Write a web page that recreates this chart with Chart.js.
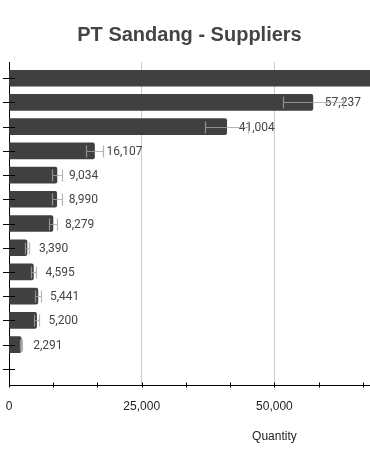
<!DOCTYPE html>
<html>
<head>
<meta charset="utf-8">
<title>PT Sandang - Suppliers</title>
<script src="https://cdn.jsdelivr.net/npm/chart.js@4.4.1/dist/chart.umd.min.js"></script>
<style>
  html, body { margin: 0; padding: 0; background: #fff; }
  .chart-box { width: 370px; height: 467px; }
</style>
</head>
<body>
<div class="chart-box"><canvas id="supplierChart"></canvas></div>
<script>
// Data (top bar runs past the axis end, its value is a guess)
const quantities = [90000, 57237, 41004, 16107, 9034, 8990, 8279, 3390, 4595, 5441, 5200, 2291, null];
const errors = [9000, 5700, 4100, 1600, 900, 900, 830, 340, 460, 540, 520, 230, null];
const majorTicks = [0, 25000, 50000];
const minorPerMajor = 3;
const xMax = 68000;

const fmt = v => v.toLocaleString('en-US');

// Error bars, value labels, crossing tick marks and axis title
const extrasPlugin = {
    id: 'extras',
    afterDatasetsDraw(chart) {
        const ctx = chart.ctx;
        const x = chart.scales.x;
        const y = chart.scales.y;
        const meta = chart.getDatasetMeta(0);
        ctx.save();

        // value labels
        ctx.font = '12px Roboto';
        ctx.fillStyle = '#444';
        ctx.textAlign = 'left';
        ctx.textBaseline = 'middle';
        meta.data.forEach((bar, i) => {
            if (quantities[i] == null) return;
            ctx.fillText(fmt(quantities[i]), bar.x + 12, bar.y + 1);
        });

        // error bars
        ctx.strokeStyle = 'rgba(165,165,165,0.8)';
        ctx.lineWidth = 1.2;
        meta.data.forEach((bar, i) => {
            if (quantities[i] == null) return;
            const lo = Math.round(x.getPixelForValue(quantities[i] - errors[i])) + 0.5;
            const hi = Math.round(x.getPixelForValue(quantities[i] + errors[i])) + 0.5;
            const cy = Math.round(bar.y) + 0.5;
            ctx.beginPath();
            ctx.moveTo(lo, cy); ctx.lineTo(hi, cy);
            ctx.moveTo(lo, cy - 6); ctx.lineTo(lo, cy + 6);
            ctx.moveTo(hi, cy - 6); ctx.lineTo(hi, cy + 6);
            ctx.stroke();
        });

        // tick marks crossing the axes
        ctx.strokeStyle = '#000';
        ctx.lineWidth = 1;
        ctx.beginPath();
        y.ticks.forEach(t => {
            const py = Math.round(y.getPixelForValue(t.value)) + 0.5;
            ctx.moveTo(x.left - 6, py); ctx.lineTo(x.left + 6, py);
        });
        x.ticks.forEach(t => {
            const px = Math.round(x.getPixelForValue(t.value)) + 0.5;
            ctx.moveTo(px, y.bottom - 2.5); ctx.lineTo(px, y.bottom + 2.5);
        });
        ctx.stroke();

        // axis title
        ctx.font = '12px "Liberation Sans", Arial';
        ctx.fillStyle = '#222';
        ctx.textAlign = 'center';
        ctx.fillText('Quantity', x.getPixelForValue(majorTicks[2]), 437);

        ctx.restore();
    }
};

const isMajor = v => majorTicks.some(m => Math.abs(m - v) < 1);

const ctx = document.getElementById('supplierChart').getContext('2d');
const supplierChart = new Chart(ctx, {
    type: 'bar',
    data: {
        datasets: [{
            data: quantities.map((q, i) => ({ x: q, y: i })),
            backgroundColor: '#404040',
            borderRadius: 2,
            borderSkipped: 'start',
            barThickness: 16
        }]
    },
    plugins: [extrasPlugin],
    options: {
        indexAxis: 'y',
        animation: false,
        responsive: true,
        maintainAspectRatio: false,
        layout: {
            autoPadding: false,
            padding: { left: 9, right: 0, top: 0, bottom: 42 }
        },
        plugins: {
            legend: { display: false },
            tooltip: { enabled: false },
            title: {
                display: true,
                text: 'PT Sandang - Suppliers',
                color: '#444',
                font: { family: '"Liberation Sans", Arial', size: 20, weight: 'bold' },
                padding: { top: 23, bottom: 15 }
            }
        },
        scales: {
            x: {
                type: 'linear',
                min: 0,
                max: xMax,
                afterBuildTicks: scale => {
                    const step = (majorTicks[1] - majorTicks[0]) / minorPerMajor;
                    const ticks = [];
                    for (let v = 0; v <= xMax; v += step) ticks.push({ value: v });
                    scale.ticks = ticks;
                },
                afterFit: scale => {
                    scale.paddingLeft = 0;
                    scale.paddingRight = 0;
                    scale.height = 40;
                },
                ticks: {
                    autoSkip: false,
                    maxRotation: 0,
                    padding: 14,
                    color: '#222',
                    font: { family: '"Liberation Sans", Arial', size: 12 },
                    callback: v => isMajor(v) ? fmt(Math.round(v)) : ''
                },
                grid: {
                    drawTicks: false,
                    color: c => (c.tick && isMajor(c.tick.value) && c.tick.value > 0) ? '#ccc' : 'rgba(0,0,0,0)'
                },
                border: { display: true, color: '#000', width: 1 }
            },
            y: {
                type: 'linear',
                reverse: true,
                offset: false,
                min: -0.67,
                max: quantities.length - 1 + 0.67,
                afterBuildTicks: scale => {
                    scale.ticks = quantities.map((q, i) => ({ value: i }));
                },
                afterFit: scale => { scale.width = 0; },
                ticks: { display: false },
                grid: { drawOnChartArea: false, drawTicks: false, offset: false },
                border: { display: true, color: '#000', width: 1 }
            }
        }
    }
});
</script>
</body>
</html>
